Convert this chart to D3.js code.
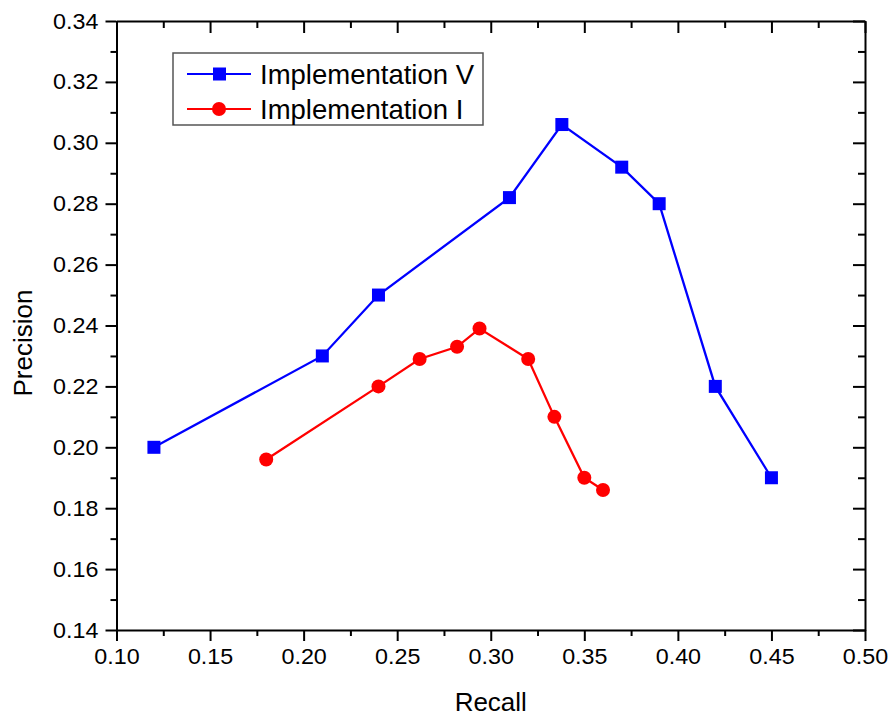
<!DOCTYPE html>
<html>
<head>
<meta charset="utf-8">
<script src="https://cdn.jsdelivr.net/npm/d3@7"></script>
<style>
  body { margin: 0; background: #fff; }
  svg { display: block; font-family: "Liberation Sans", Arial, sans-serif; }
</style>
</head>
<body>
<div id="container"></div>
<script>
const seriesNames = ["Implementation V", "Implementation I"];
const recallV = [0.12, 0.21, 0.24, 0.31, 0.338, 0.37, 0.39, 0.42, 0.45];
const precisionV = [0.200, 0.230, 0.250, 0.282, 0.306, 0.292, 0.280, 0.220, 0.190];
const recallI = [0.18, 0.24, 0.262, 0.282, 0.294, 0.32, 0.334, 0.35, 0.36];
const precisionI = [0.196, 0.220, 0.229, 0.233, 0.239, 0.229, 0.210, 0.190, 0.186];
const xTicks = [0.10, 0.15, 0.20, 0.25, 0.30, 0.35, 0.40, 0.45, 0.50];
const yTicks = [0.14, 0.16, 0.18, 0.20, 0.22, 0.24, 0.26, 0.28, 0.30, 0.32, 0.34];

const W = 891, H = 717;
const margin = {left: 116.5, top: 21, right: 26, bottom: 87};
const w = W - margin.left - margin.right;
const h = H - margin.top - margin.bottom;

let svg = d3.select("#container").
append("svg").
attr("width", W).
attr("height", H);

let g = svg.append("g").
attr("transform", `translate(${margin.left},${margin.top})`);

let x = d3.scaleLinear().domain([0.10, 0.50]).range([0, w]);
let y = d3.scaleLinear().domain([0.14, 0.34]).range([h, 0]);

// minor tick positions halfway between majors
let xMinor = xTicks.slice(1).map((d, i) => (d + xTicks[i]) / 2);
let yMinor = yTicks.slice(1).map((d, i) => (d + yTicks[i]) / 2);

function styleAxis(sel) {
  sel.selectAll("path").attr("stroke", "#000").attr("stroke-width", 2);
  sel.selectAll("line").attr("stroke", "#000").attr("stroke-width", 2);
  sel.selectAll("text").attr("fill", "#000").
  attr("transform", "scale(1.06,1)").
  style("font-size", "22px").
  style("font-family", "'Liberation Sans', Arial, sans-serif");
}

// bottom axis
g.append("g").attr("transform", `translate(0,${h})`).
call(d3.axisBottom(x).tickValues(xTicks).tickFormat(d3.format(".2f")).
tickSizeInner(11).tickSizeOuter(0).tickPadding(7)).
call(styleAxis);
g.append("g").attr("transform", `translate(0,${h})`).
call(d3.axisBottom(x).tickValues(xMinor).tickFormat("").tickSize(6)).
call(styleAxis).select("path").remove();

// left axis
g.append("g").
call(d3.axisLeft(y).tickValues(yTicks).tickFormat(d3.format(".2f")).
tickSizeInner(11).tickSizeOuter(0).tickPadding(6)).
call(styleAxis);
g.append("g").
call(d3.axisLeft(y).tickValues(yMinor).tickFormat("").tickSize(6)).
call(styleAxis).select("path").remove();

// top axis, ticks inward
g.append("g").
call(d3.axisTop(x).tickValues(xTicks).tickFormat("").tickSizeInner(-12).tickSizeOuter(0)).
call(styleAxis);
g.append("g").
call(d3.axisTop(x).tickValues(xMinor).tickFormat("").tickSize(-7)).
call(styleAxis).select("path").remove();

// right axis, ticks inward
g.append("g").attr("transform", `translate(${w},0)`).
call(d3.axisRight(y).tickValues(yTicks).tickFormat("").tickSizeInner(-12).tickSizeOuter(0)).
call(styleAxis);
g.append("g").attr("transform", `translate(${w},0)`).
call(d3.axisRight(y).tickValues(yMinor).tickFormat("").tickSize(-7)).
call(styleAxis).select("path").remove();

// axis titles
svg.append("text").
attr("x", margin.left + x(0.30)).
attr("y", 711).
attr("text-anchor", "middle").
style("font-size", "26px").
text("Recall");

svg.append("text").
attr("transform", "translate(32,343) rotate(-90)").
attr("text-anchor", "middle").
style("font-size", "26px").
text("Precision");

// lines
let line = d3.line().x(d => x(d[0])).y(d => y(d[1]));
let dataV = recallV.map((d, i) => [d, precisionV[i]]);
let dataI = recallI.map((d, i) => [d, precisionI[i]]);

g.append("path").datum(dataV).
attr("d", line).
attr("fill", "none").
attr("stroke", "#0000ff").
attr("stroke-width", 2.3);

g.selectAll(".sq").
data(dataV).
enter().
append("rect").
attr("class", "sq").
attr("x", d => x(d[0]) - 6.5).
attr("y", d => y(d[1]) - 6.5).
attr("width", 13).
attr("height", 13).
attr("fill", "#0000ff");

g.append("path").datum(dataI).
attr("d", line).
attr("fill", "none").
attr("stroke", "#ff0000").
attr("stroke-width", 2.3);

g.selectAll(".dot").
data(dataI).
enter().
append("circle").
attr("class", "dot").
attr("cx", d => x(d[0])).
attr("cy", d => y(d[1])).
attr("r", 7).
attr("fill", "#ff0000");

// legend
let legend = svg.append("g").attr("transform", "translate(173,53)");
legend.append("rect").
attr("width", 310).
attr("height", 72).
attr("fill", "#fff").
attr("stroke", "#555").
attr("stroke-width", 1.5);

let colors = ["#0000ff", "#ff0000"];
seriesNames.forEach((name, i) => {
  let ly = 21 + i * 35;
  legend.append("line").
  attr("x1", 14).attr("x2", 78).
  attr("y1", ly).attr("y2", ly).
  attr("stroke", colors[i]).
  attr("stroke-width", 2);
  if (i === 0) {
    legend.append("rect").
    attr("x", 40).attr("y", ly - 6.5).
    attr("width", 13).attr("height", 13).
    attr("fill", colors[i]);
  } else {
    legend.append("circle").
    attr("cx", 46).attr("cy", ly).
    attr("r", 7).
    attr("fill", colors[i]);
  }
  legend.append("text").
  attr("x", 87).
  attr("y", ly + 9.5).
  style("font-size", "27.5px").
  text(name);
});
</script>
</body>
</html>
